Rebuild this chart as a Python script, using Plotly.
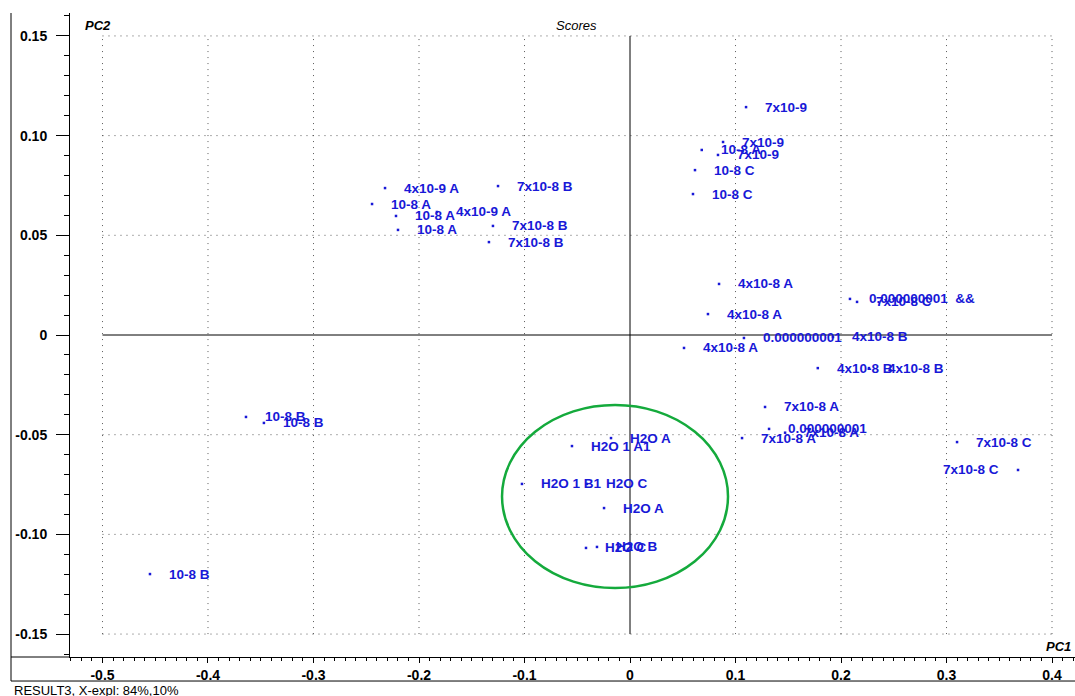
import plotly.graph_objects as go

# PCA score coordinates (PC1, PC2) and sample labels
pc1 = [0.110, 0.0882, 0.068, 0.0834, 0.0616, 0.0597,
       -0.2322, -0.1251, -0.2445, -0.2218, -0.183, -0.2199, -0.1299, -0.1337,
       0.0844, 0.2085, 0.2152, 0.0739, 0.108, 0.1924, 0.0512, 0.178, 0.2265,
       0.128, 0.1318, 0.1062, 0.147, 0.310, 0.3678,
       -0.055, -0.018, -0.1024, -0.0408, -0.0246, -0.0417, -0.0313,
       -0.364, -0.347, -0.455]
pc2 = [0.1143, 0.0968, 0.0928, 0.0903, 0.0827, 0.0707,
       0.0737, 0.0747, 0.0657, 0.0597, 0.0617, 0.0527, 0.0547, 0.0466,
       0.0256, 0.0181, 0.0166, 0.0105, -0.0015, -0.001, -0.0065, -0.0166, -0.0166,
       -0.0361, -0.0471, -0.0517, -0.049, -0.0537, -0.0677,
       -0.0557, -0.0517, -0.0747, -0.0747, -0.0868, -0.1068, -0.1063,
       -0.0411, -0.0441, -0.1199]
labels = ["7x10-9", "7x10-9", "10-8 A", "7x10-9", "10-8 C", "10-8 C",
          "4x10-9 A", "7x10-8 B", "10-8 A", "10-8 A", "4x10-9 A", "10-8 A", "7x10-8 B", "7x10-8 B",
          "4x10-8 A", "0.000000001  &&", "7x10-8 C", "4x10-8 A", "0.000000001", "4x10-8 B",
          "4x10-8 A", "4x10-8 B", "4x10-8 B",
          "7x10-8 A", "0.000000001", "7x10-8 A", "7x10-8 A", "7x10-8 C", "7x10-8 C",
          "H2O 1 A1", "H2O A", "H2O 1 B1", "H2O C", "H2O A", "H2O C", "H2O B",
          "10-8 B", "10-8 B", "10-8 B"]
# which side of the point each label sits on
label_side = ["right"] * len(labels)
label_side[28] = "left"

x_ticks = [-0.5, -0.4, -0.3, -0.2, -0.1, 0, 0.1, 0.2, 0.3, 0.4]
x_tick_text = ["-0.5", "-0.4", "-0.3", "-0.2", "-0.1", "0", "0.1", "0.2", "0.3", "0.4"]
y_ticks = [-0.15, -0.10, -0.05, 0, 0.05, 0.10, 0.15]
y_tick_text = ["-0.15", "-0.10", "-0.05", "0", "0.05", "0.10", "0.15"]

# grouping ellipse around the water samples
ellipse_x = [-0.1213, 0.0929]
ellipse_y = [-0.1269, -0.0351]

BLUE = "rgb(24,24,215)"
FONT = "Liberation Sans, Arial, sans-serif"
GRID = dict(color="rgb(90,90,90)", width=1, dash="1px,5px")

fig = go.Figure()
fig.add_trace(go.Scatter(
    x=pc1, y=pc2, mode="markers",
    marker=dict(size=2.5, color=BLUE, symbol="square"),
    hoverinfo="skip", showlegend=False,
))

annotations = []
for x, y, t, side in zip(pc1, pc2, labels, label_side):
    annotations.append(dict(
        x=x, y=y, text=t, showarrow=False,
        xanchor="left" if side == "right" else "right",
        xshift=17 if side == "right" else -17,
        yanchor="middle",
        font=dict(family=FONT, size=13.5, color=BLUE, weight="bold"),
    ))

# axis captions
annotations += [
    dict(x=0.013, y=1.0, xref="paper", yref="paper", text="<b><i>PC2</i></b>",
         showarrow=False, xanchor="left", yanchor="middle", yshift=-12,
         font=dict(family=FONT, size=13, color="black")),
    dict(x=0.504, y=1.0, xref="paper", yref="paper", text="<i>Scores</i>",
         showarrow=False, xanchor="center", yanchor="middle", yshift=-12,
         font=dict(family=FONT, size=13, color="black")),
    dict(x=1.0, y=0.0, xref="paper", yref="paper", text="<b><i>PC1</i></b>",
         showarrow=False, xanchor="right", yanchor="bottom", xshift=-2, yshift=1,
         font=dict(family=FONT, size=13, color="black")),
    dict(x=-0.0577, y=-0.0515, xref="paper", yref="paper",
         text="RESULT3, X-expl: 84%,10%",
         showarrow=False, xanchor="left", yanchor="middle",
         font=dict(family=FONT, size=13, color="black")),
]

shapes = []
# dotted grid inside the tick rectangle
for xv in x_ticks:
    if xv == 0:
        continue
    shapes.append(dict(type="line", x0=xv, x1=xv, y0=y_ticks[0], y1=y_ticks[-1],
                       line=GRID, layer="below"))
for yv in y_ticks:
    if yv == 0:
        continue
    shapes.append(dict(type="line", x0=x_ticks[0], x1=x_ticks[-1], y0=yv, y1=yv,
                       line=GRID, layer="below"))
# origin cross-hairs
shapes.append(dict(type="line", x0=0, x1=0, y0=y_ticks[0], y1=y_ticks[-1],
                   line=dict(color="black", width=1), layer="below"))
shapes.append(dict(type="line", x0=x_ticks[0], x1=x_ticks[-1], y0=0, y1=0,
                   line=dict(color="black", width=1), layer="below"))
# ellipse
shapes.append(dict(type="circle", x0=ellipse_x[0], x1=ellipse_x[1],
                   y0=ellipse_y[0], y1=ellipse_y[1],
                   line=dict(color="rgb(20,170,60)", width=2.5)))
# outer frame around the tick-label area
shapes += [
    dict(type="line", xref="paper", yref="paper", x0=-0.0587, x1=-0.0587, y0=1.0, y1=-0.0373,
         line=dict(color="black", width=1)),
    dict(type="line", xref="paper", yref="paper", x0=-0.0587, x1=0.0, y0=0.0, y1=0.0,
         line=dict(color="black", width=1)),
    dict(type="line", xref="paper", yref="paper", x0=-0.0587, x1=1.0, y0=-0.0373, y1=-0.0373,
         line=dict(color="black", width=1)),
]

fig.update_layout(
    width=1075, height=696,
    margin=dict(l=70, r=0, t=13, b=39),
    paper_bgcolor="white", plot_bgcolor="white",
    font=dict(family=FONT, size=13, color="black"),
    annotations=annotations, shapes=shapes,
    xaxis=dict(
        range=[-0.5308, 0.4218], showgrid=False, zeroline=False,
        showline=True, linecolor="black", linewidth=1,
        tickmode="array", tickvals=x_ticks, ticktext=x_tick_text,
        ticks="outside", ticklen=5, tickcolor="black",
        tickfont=dict(family=FONT, size=14, color="black", weight="bold"),
        minor=dict(dtick=0.01, tick0=0, ticks="outside", ticklen=3, tickcolor="black", showgrid=False),
    ),
    yaxis=dict(
        range=[-0.1615, 0.1615], showgrid=False, zeroline=False,
        showline=True, linecolor="black", linewidth=1,
        tickmode="array", tickvals=y_ticks, ticktext=y_tick_text,
        ticks="outside", ticklen=13, tickcolor="black",
        ticklabelstandoff=6,
        tickfont=dict(family=FONT, size=14, color="black", weight="bold"),
        minor=dict(dtick=0.01, tick0=0, ticks="outside", ticklen=5, tickcolor="black", showgrid=False),
    ),
)

fig.write_html("out.html")
